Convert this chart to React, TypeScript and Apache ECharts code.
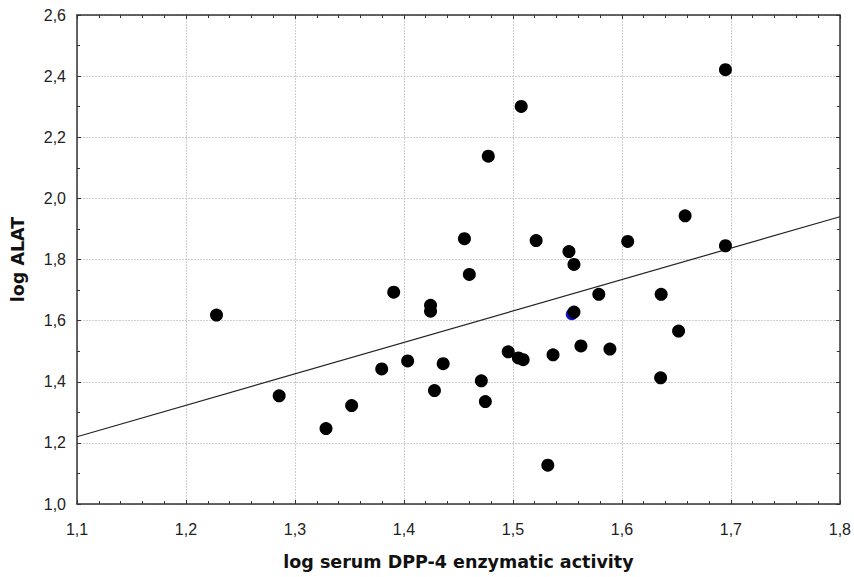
import React, { useEffect, useRef } from "react";
import * as echarts from "echarts";

const xValues = [
  1.228, 1.2855, 1.3285, 1.352, 1.3796, 1.3906, 1.4034, 1.4244, 1.4244, 1.428,
  1.436, 1.4555, 1.46, 1.471, 1.4774, 1.4747, 1.4957, 1.505, 1.5094, 1.5076,
  1.5213, 1.5368, 1.532, 1.5514, 1.556, 1.556, 1.5624, 1.5788, 1.589, 1.6053,
  1.636, 1.6355, 1.652, 1.658, 1.695, 1.695,
];
const yValues = [
  1.618, 1.354, 1.247, 1.322, 1.442, 1.693, 1.468, 1.65, 1.631, 1.371,
  1.459, 1.868, 1.751, 1.403, 2.138, 1.335, 1.498, 1.478, 1.472, 2.301,
  1.862, 1.488, 1.127, 1.826, 1.784, 1.628, 1.517, 1.686, 1.507, 1.859,
  1.686, 1.413, 1.566, 1.943, 2.421, 1.845,
];
const bluePoint = [[1.554, 1.621]];
const fitLine = [
  [1.1, 1.22],
  [1.8, 1.94],
];
const xTicks = { min: 1.1, max: 1.8, step: 0.1 };
const yTicks = { min: 1.0, max: 2.6, step: 0.2 };

const fmt = (v: number) => v.toFixed(1).replace(".", ",");

export default function App() {
  const ref = useRef<HTMLDivElement>(null);
  useEffect(() => {
    if (!ref.current) return;
    const chart = echarts.init(ref.current, null, { renderer: "svg" });
    const axisLine = { show: true, lineStyle: { color: "#333", width: 1.5 } };
    const splitLine = {
      show: true,
      lineStyle: { color: "#cfcfcf", type: [2, 1] as any, width: 1 },
    };
    const font = "Liberation Sans";
    const titleFont = "DejaVu Sans";
    const tick = { show: true, inside: true, length: 4, lineStyle: { color: "#333" } };
    chart.setOption({
      animation: false,
      backgroundColor: "#fff",
      grid: { left: 77, top: 15, right: 11, bottom: 70 },
      xAxis: [
        {
          type: "value",
          min: xTicks.min,
          max: xTicks.max,
          interval: xTicks.step,
          position: "bottom",
          axisLine,
          axisTick: tick,
          minorTick: { show: true, splitNumber: 5, length: 3, lineStyle: { color: "#333" } },
          splitLine,
          axisLabel: {
            formatter: fmt,
            fontFamily: font,
            fontSize: 16,
            color: "#222",
            margin: 17,
          },
          name: "log serum DPP-4 enzymatic activity",
          nameLocation: "middle",
          nameGap: 48,
          nameTextStyle: {
            fontFamily: titleFont,
            fontSize: 17.5,
            fontWeight: "bold",
            color: "#111",
            lineHeight: 20,
          },
        },
        {
          type: "value",
          min: xTicks.min,
          max: xTicks.max,
          interval: xTicks.step,
          position: "top",
          axisLine,
          axisTick: tick,
          minorTick: { show: true, splitNumber: 5, length: 3, lineStyle: { color: "#333" } },
          splitLine: { show: false },
          axisLabel: { show: false },
        },
      ],
      yAxis: [
        {
          type: "value",
          min: yTicks.min,
          max: yTicks.max,
          interval: yTicks.step,
          position: "left",
          axisLine,
          axisTick: tick,
          minorTick: { show: true, splitNumber: 2, length: 3, lineStyle: { color: "#333" } },
          splitLine,
          axisLabel: {
            formatter: fmt,
            fontFamily: font,
            fontSize: 16,
            color: "#222",
            margin: 11,
          },
          name: "log ALAT",
          nameLocation: "middle",
          nameGap: 49,
          nameTextStyle: {
            fontFamily: titleFont,
            fontSize: 17.5,
            fontWeight: "bold",
            color: "#111",
            lineHeight: 20,
          },
        },
        {
          type: "value",
          min: yTicks.min,
          max: yTicks.max,
          interval: yTicks.step,
          position: "right",
          axisLine,
          axisTick: tick,
          minorTick: { show: true, splitNumber: 2, length: 3, lineStyle: { color: "#333" } },
          splitLine: { show: false },
          axisLabel: { show: false },
        },
      ],
      series: [
        {
          type: "line",
          data: fitLine,
          showSymbol: false,
          lineStyle: { color: "#222", width: 1.2 },
          z: 1,
          silent: true,
        },
        {
          type: "scatter",
          data: bluePoint,
          symbolSize: 12,
          itemStyle: { color: "#1010d0", opacity: 1 },
          z: 2,
        },
        {
          type: "scatter",
          data: xValues.map((x, i) => [x, yValues[i]]),
          symbolSize: 13,
          itemStyle: { color: "#000", opacity: 1 },
          z: 3,
        },
      ],
    });
    return () => chart.dispose();
  }, []);
  return (
    <div
      ref={ref}
      style={{ position: "fixed", left: 0, top: 0, width: 854, height: 577 }}
    />
  );
}
